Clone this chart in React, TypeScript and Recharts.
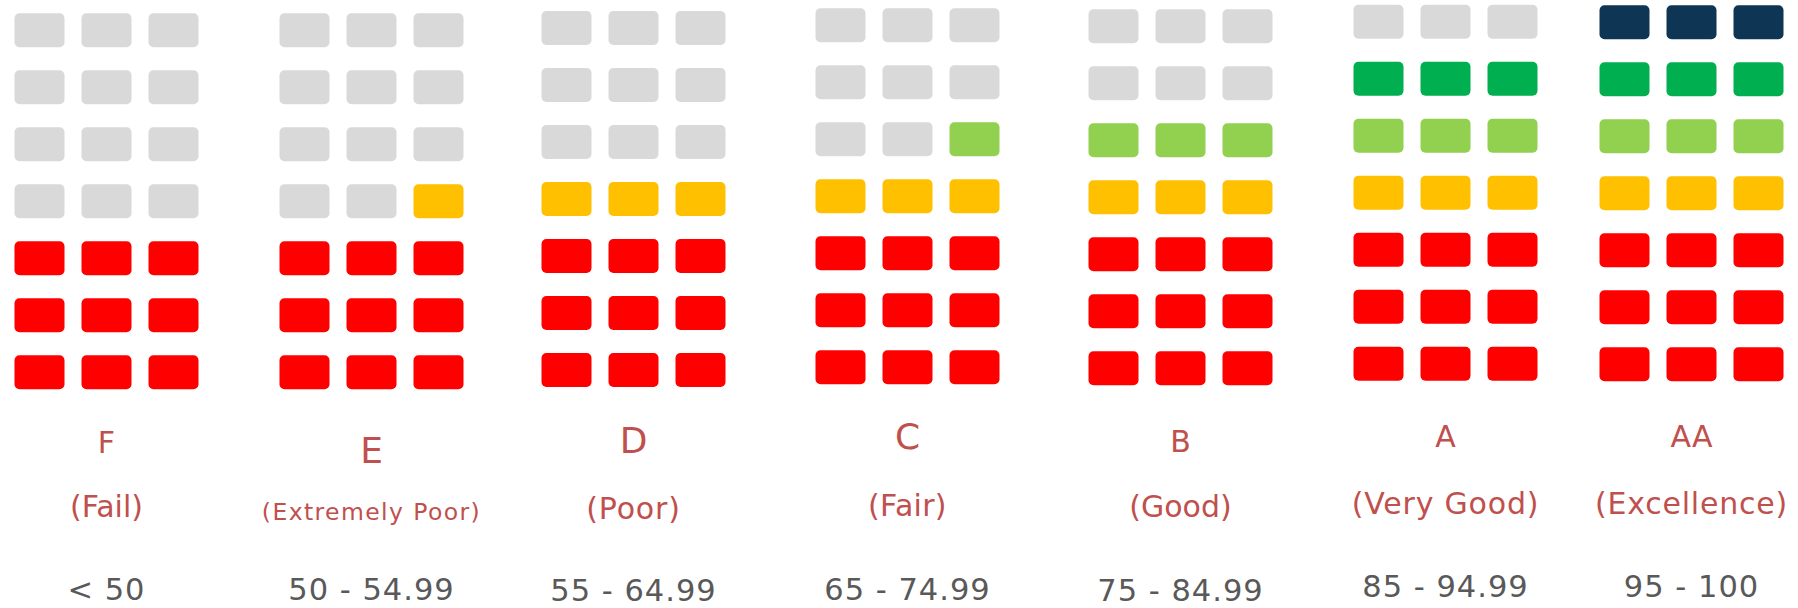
import React from 'react';
import { ScatterChart, Scatter, XAxis, YAxis } from 'recharts';

// ---- data ----
const grades = ['F', 'E', 'D', 'C', 'B', 'A', 'AA'];
const descriptions = ['(Fail)', '(Extremely Poor)', '(Poor)', '(Fair)', '(Good)', '(Very Good)', '(Excellence)'];
const scoreRanges = ['< 50', '50 - 54.99', '55 - 64.99', '65 - 74.99', '75 - 84.99', '85 - 94.99', '95 - 100'];
// number of filled cells (from bottom) in each of the three columns per grade
const filledLevels = [
  [3, 3, 3],
  [3, 3, 4],
  [4, 4, 4],
  [4, 4, 5],
  [5, 5, 5],
  [6, 6, 6],
  [7, 7, 7],
];
const columns = [1, 2, 3];
const rows = [1, 2, 3, 4, 5, 6, 7];

// ---- styles / layout ----
const rowColors = ['#FF0000', '#FF0000', '#FF0000', '#FFC000', '#92D050', '#00B050', '#0E3553'];
const emptyColor = '#D9D9D9';
const labelRed = '#C0504D';
const labelGray = '#595959';
const FONT = "'DejaVu Sans', sans-serif";

const groupLeft = [14, 279, 541, 815, 1088, 1353, 1599];
const groupTop = [13.3, 13.3, 11, 8.3, 9.3, 4.7, 5.3];
const letterY = [452.7, 463, 453, 449, 452, 447, 447];
const letterSize = [30, 36, 36, 36, 30, 30, 30];
const descY = [517, 520, 519, 516, 517, 514, 514];
const descSize = [30, 23.5, 30, 30, 30, 30, 30];
const descSpacing = [0, 1.4, 0.8, 0.3, 0, 0.8, 0.8];
const rangeY = [599.5, 599.5, 601, 599.5, 601, 597, 597];

const COL_PITCH = 67;
const ROW_PITCH = 57;
const CELL_W = 50;
const CELL_H = 34;
const PAD = 50;
const H = 608;

function buildCells(gi: number) {
  const out: { col: number; row: number; fill: string }[] = [];
  columns.forEach((c, ci) => {
    rows.forEach((r) => {
      const filled = r <= filledLevels[gi][ci];
      out.push({ col: c, row: r, fill: filled ? rowColors[r - 1] : emptyColor });
    });
  });
  return out;
}

const CellShape = (props: any) => {
  const { cx, cy, payload } = props;
  if (cx == null || cy == null) return null;
  return (
    <rect
      x={cx - CELL_W / 2}
      y={cy - CELL_H / 2}
      width={CELL_W}
      height={CELL_H}
      rx={5}
      ry={5}
      fill={payload.fill}
    />
  );
};

const makeTick = (gi: number) => (props: any) => {
  const { x } = props;
  return (
    <g fontFamily={FONT}>
      <text x={x} y={letterY[gi]} textAnchor="middle" fontSize={letterSize[gi]} fill={labelRed}>
        {grades[gi]}
      </text>
      <text
        x={x}
        y={descY[gi]}
        textAnchor="middle"
        fontSize={descSize[gi]}
        fill={labelRed}
        letterSpacing={descSpacing[gi]}
      >
        {descriptions[gi]}
      </text>
      <text x={x} y={rangeY[gi]} textAnchor="middle" fontSize={30.5} fill={labelGray} letterSpacing={1}>
        {scoreRanges[gi]}
      </text>
    </g>
  );
};

function GradeBlock({ gi }: { gi: number }) {
  const top = groupTop[gi] - (ROW_PITCH - CELL_H) / 2;
  const plotW = COL_PITCH * columns.length;
  const plotH = ROW_PITCH * rows.length;
  const width = plotW + 2 * PAD;
  const left = groupLeft[gi] - (COL_PITCH - CELL_W) / 2 - PAD;
  return (
    <div style={{ position: 'absolute', left, top: 0, width, height: H }}>
      <ScatterChart width={width} height={H} margin={{ top, right: PAD, bottom: 0, left: PAD }}>
        <XAxis
          type="number"
          dataKey="col"
          domain={[0.5, 3.5]}
          ticks={[2]}
          interval={0}
          axisLine={false}
          tickLine={false}
          tickSize={0}
          tickMargin={0}
          height={H - top - plotH}
          tick={makeTick(gi)}
        />
        <YAxis type="number" dataKey="row" domain={[0.5, 7.5]} hide width={0} />
        <Scatter data={buildCells(gi)} shape={<CellShape />} isAnimationActive={false} />
      </ScatterChart>
    </div>
  );
}

export default function App() {
  return (
    <div
      style={{
        position: 'absolute',
        left: 0,
        top: 0,
        width: 1798,
        height: H,
        overflow: 'hidden',
        background: '#FFFFFF',
      }}
    >
      {grades.map((_, gi) => (
        <GradeBlock key={gi} gi={gi} />
      ))}
    </div>
  );
}
